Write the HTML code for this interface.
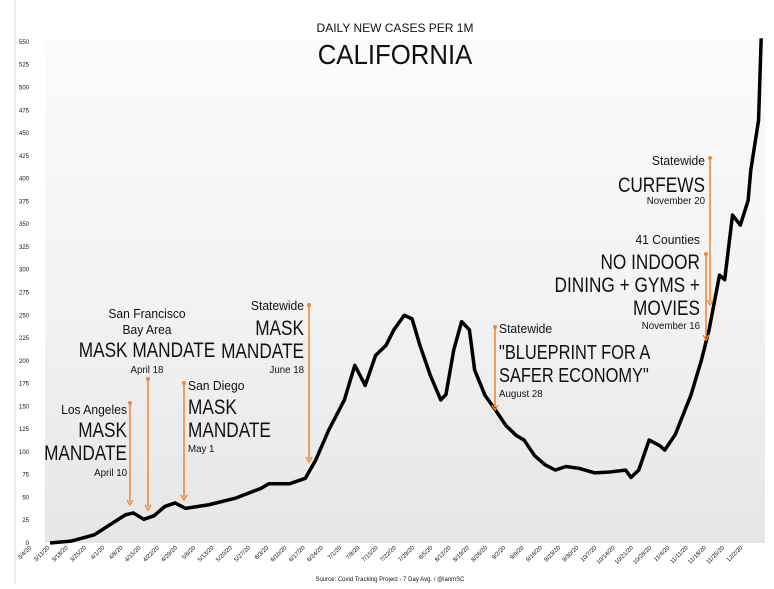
<!DOCTYPE html>
<html><head><meta charset="utf-8"><style>
body{margin:0;background:#fff;}
svg text{font-family:"Liberation Sans",sans-serif;fill:#111;}
</style></head><body>
<svg id="chart" width="774" height="584" viewBox="0 0 774 584" xmlns="http://www.w3.org/2000/svg">
<defs><linearGradient id="bg" x1="0" y1="0" x2="0" y2="1"><stop offset="0" stop-color="#fbfbfb"/><stop offset="0.5" stop-color="#f3f3f3"/><stop offset="1" stop-color="#e6e6e6"/></linearGradient></defs>
<line x1="15" y1="0" x2="15" y2="584" stroke="#ddd"/>
<rect x="45" y="40" width="720" height="503" fill="url(#bg)"/>
<text id="sub" x="395" y="32" font-size="12" text-anchor="middle">DAILY NEW CASES PER 1M</text>
<text id="ttl" x="395" y="64" font-size="28" text-anchor="middle">CALIFORNIA</text>
<g id="yaxis"></g><g id="xaxis"></g><g id="line"></g>
<g id="ann" font-size="13"></g>
<text x="390" y="581" font-size="6" fill="#666" text-anchor="middle">Source: Covid Tracking Project - 7 Day Avg. / @ianmSC</text>
</svg>
<script>
const days=[0,8,17,23,29,32,36,40,44,48,52,61,71,81,84,92,98,102,107,113,117,121,125,129,132,136,139,142,146,150,152,155,158,161,163,167,171,175,179,182,186,190,194,198,203,209,215,221,223,226,230,234,236,240,246,250,253,257,259,262,265,268,269,272,273];
const values=[0,2,9,20,31,33,26,30,40,44,38,42,49,60,65,65,71,91,124,157,195,173,206,217,234,250,246,217,184,157,163,212,243,234,190,162,146,129,118,113,96,86,80,84,82,77,78,80,72,80,113,107,102,119,162,200,234,294,289,360,349,376,409,464,554];
const yTicks=[0,25,50,75,100,125,150,175,200,225,250,275,300,325,350,375,400,425,450,475,500,525,550];
const xLabels=["3/4/20","3/11/20","3/18/20","3/25/20","4/1/20","4/8/20","4/15/20","4/22/20","4/29/20","5/6/20","5/13/20","5/20/20","5/27/20","6/3/20","6/10/20","6/17/20","6/24/20","7/1/20","7/8/20","7/15/20","7/22/20","7/29/20","8/5/20","8/12/20","8/19/20","8/26/20","9/2/20","9/9/20","9/16/20","9/23/20","9/30/20","10/7/20","10/14/20","10/21/20","10/28/20","11/4/20","11/11/20","11/18/20","11/25/20","12/2/20"];
const NS="http://www.w3.org/2000/svg";
const X=d=>50+d*2.605, Y=v=>543-v*0.911;
function mk(t,a,p){const e=document.createElementNS(NS,t);for(const k in a)e.setAttribute(k,a[k]);p.appendChild(e);return e;}
function squeeze(e,f){const w=e.getComputedTextLength();e.setAttribute('textLength',w*f);e.setAttribute('lengthAdjust','spacingAndGlyphs');}
squeeze(document.getElementById('ttl'),0.92);
const ya=document.getElementById('yaxis');
yTicks.forEach(v=>{const t=mk('text',{x:29,y:Y(v)+2,'font-size':6,'text-anchor':'end',fill:'#777'},ya);t.textContent=v;

});
const xa=document.getElementById('xaxis');
xLabels.forEach((s,i)=>{const x=X(-7+i*7);const t=mk('text',{x:x,y:548,'font-size':6,'text-anchor':'end',fill:'#777',transform:`rotate(-45 ${x} 548)`},xa);t.textContent=s;

});
const pl=mk('polyline',{points:days.map((d,i)=>X(d)+','+Y(values[i])).join(' '),fill:'none',stroke:'#000','stroke-width':3.5,'stroke-linejoin':'round'},document.getElementById('line'));


const ann=document.getElementById('ann');
const arrows=[[130,403,505,'la-arrow'],[148,379,510,'sf-arrow'],[184,383,500,'sd-arrow'],[309,305,462,'june-arrow'],[495,327,410,'blueprint-arrow'],[710,158,305,'curfew-arrow'],[706,254,340,'counties-arrow']];
arrows.forEach(a=>{const g=mk('g',{},ann);


mk('line',{x1:a[0],y1:a[1],x2:a[0],y2:a[2]-3,stroke:'#f08a3c','stroke-width':1.6},g);
mk('circle',{cx:a[0],cy:a[1],r:2,fill:'#f08a3c'},g);
mk('path',{d:`M${a[0]-3} ${a[2]-5}L${a[0]} ${a[2]}L${a[0]+3} ${a[2]-5}`,fill:'none',stroke:'#f08a3c','stroke-width':1.4},g);});
const texts=[
[127,414,13,'end','Los Angeles','la-label'],[127,437,21,'end','MASK','la-label'],[127,460,21,'end','MANDATE','la-label'],[127,476,10,'end','April 10','la-label'],
[147,318,13,'middle','San Francisco','sf-label'],[147,334,13,'middle','Bay Area','sf-label'],[147,357,21,'middle','MASK MANDATE','sf-label'],[147,373,10,'middle','April 18','sf-label'],
[188,390,13,'start','San Diego','sd-label'],[188,414,21,'start','MASK','sd-label'],[188,437,21,'start','MANDATE','sd-label'],[188,452,10,'start','May 1','sd-label'],
[304,310,13,'end','Statewide','june-label'],[304,335,21,'end','MASK','june-label'],[304,358,21,'end','MANDATE','june-label'],[304,373,10,'end','June 18','june-label'],
[499,333,13,'start','Statewide','blueprint-label'],[499,359,20,'start','"BLUEPRINT FOR A','blueprint-label'],[499,382,20,'start','SAFER ECONOMY"','blueprint-label'],[499,397,10,'start','August 28','blueprint-label'],
[705,165,13,'end','Statewide','curfew-label'],[705,192,21,'end','CURFEWS','curfew-label'],[705,204,10,'end','November 20','curfew-label'],
[700,244,13,'end','41 Counties','counties-label'],[700,269,21,'end','NO INDOOR','counties-label'],[700,292,21,'end','DINING + GYMS +','counties-label'],[700,315,21,'end','MOVIES','counties-label'],[700,329,10,'end','November 16','counties-label']];
texts.forEach(t=>{const e=mk('text',{x:t[0],y:t[1],'font-size':t[2],'text-anchor':t[3]},ann);e.textContent=t[4];


squeeze(e,t[2]>=20?0.82:(t[2]>=13?0.93:0.97));});
</script>
</body></html>
